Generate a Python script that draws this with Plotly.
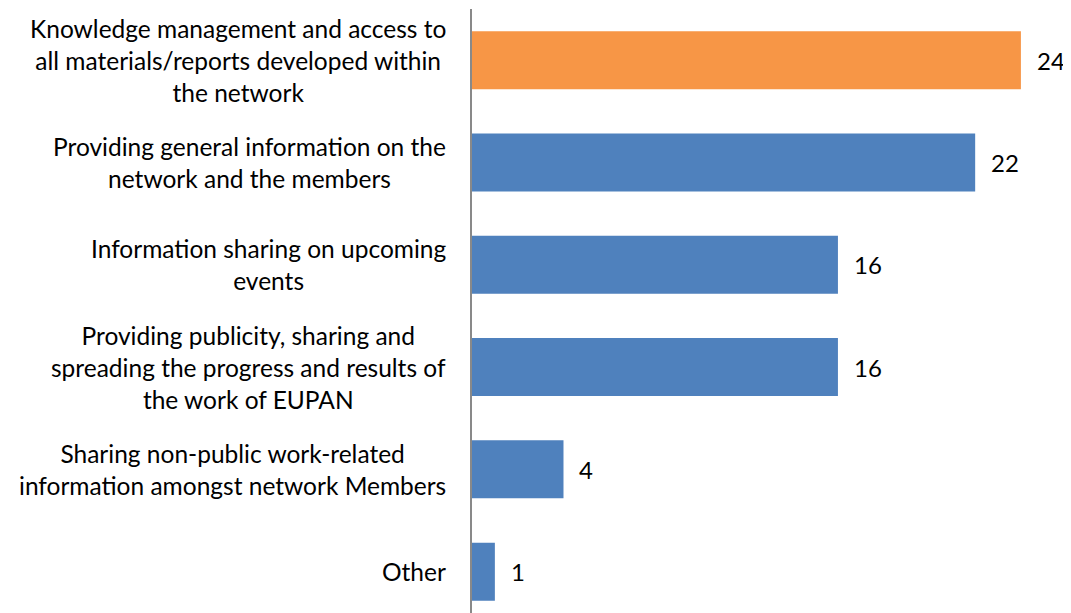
import plotly.graph_objects as go

categories = [
    "Other",
    "Sharing non-public work-related<br>information amongst network Members",
    "Providing publicity, sharing and<br>spreading the progress and results of<br>the work of EUPAN",
    "Information sharing on upcoming<br>events",
    "Providing general information on the<br>network and the members",
    "Knowledge management and access to<br>all materials/reports developed within<br>the network",
]
values = [1, 4, 16, 16, 22, 24]
colors = ["#4F81BD", "#4F81BD", "#4F81BD", "#4F81BD", "#4F81BD", "#F79646"]

FONT = "Lato"
idx = list(range(len(categories)))

fig = go.Figure()
fig.add_trace(go.Bar(
    x=values, y=idx, orientation="h",
    marker=dict(color=colors, line=dict(width=0)),
    width=0.567, hoverinfo="skip",
))

annotations = []
for i, (c, v) in enumerate(zip(categories, values)):
    annotations.append(dict(
        x=0, xref="paper", y=i, yref="y", text=c, showarrow=False,
        xanchor="right", yanchor="middle", align="center", xshift=-24,
        font=dict(family=FONT, size=24.5, color="#000000"),
    ))
    annotations.append(dict(
        x=v, xref="x", y=i, yref="y", text=str(v), showarrow=False,
        xanchor="left", yanchor="middle", xshift=14,
        font=dict(family=FONT, size=24, color="#000000"),
    ))

fig.update_layout(
    width=1063, height=605,
    margin=dict(l=464, r=0, t=1, b=0),
    paper_bgcolor="white", plot_bgcolor="white",
    showlegend=False,
    xaxis=dict(range=[0, 26.19], visible=False, fixedrange=True),
    yaxis=dict(range=[-0.404, 5.5], showticklabels=False, showgrid=False,
               zeroline=False, showline=True, linecolor="#898989", linewidth=2,
               ticks="", fixedrange=True),
    annotations=annotations,
)

fig.write_html("out.html")
